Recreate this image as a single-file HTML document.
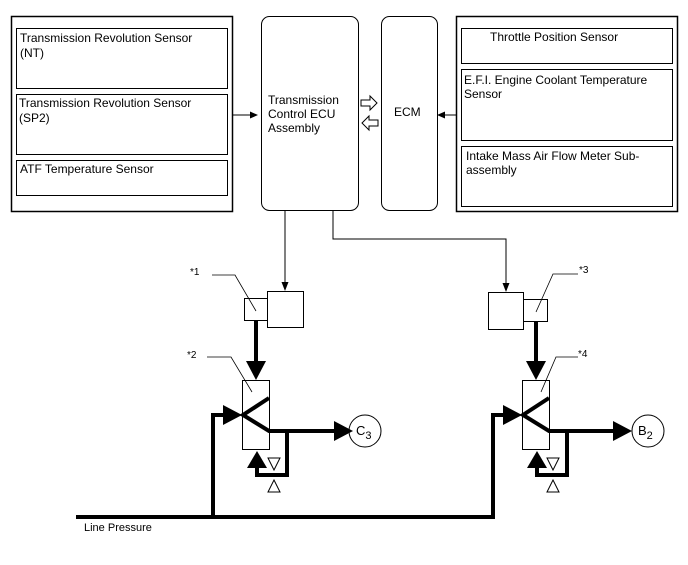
<!DOCTYPE html>
<html><head><style>
html,body{margin:0;padding:0;background:#fff;}
svg text{font-family:"Liberation Sans",Arial,sans-serif;font-size:12px;fill:#000;}
</style></head><body>
<svg width="688" height="560" viewBox="0 0 688 560" xmlns="http://www.w3.org/2000/svg">
<g fill="none" stroke="#000">
<rect x="11.5" y="16.5" width="221" height="195" stroke-width="1.5"/>
<rect x="16.5" y="28.5" width="211" height="60"/>
<rect x="16.5" y="94.5" width="211" height="60"/>
<rect x="16.5" y="160.5" width="211" height="35"/>
<rect x="261.5" y="16.5" width="97" height="194" rx="8"/>
<rect x="381.5" y="16.5" width="56" height="194" rx="8"/>
<rect x="456.5" y="16.5" width="221" height="195" stroke-width="1.5"/>
<rect x="461.5" y="28.5" width="211" height="35"/>
<rect x="461.5" y="69.5" width="211" height="71"/>
<rect x="461.5" y="146.5" width="211" height="60"/>
<line x1="232" y1="115" x2="252" y2="115"/>
<line x1="456" y1="115" x2="443" y2="115"/>
<path d="M361 100h9v-4l7 7-7 7v-4h-9z" stroke-width="1"/>
<path d="M378 120h-9v-4l-7 7 7 7v-4h9z" stroke-width="1"/>
<line x1="285" y1="211" x2="285" y2="282"/>
<polyline points="333,211 333,239 506,239 506,283"/>
<rect x="267.5" y="291.5" width="36" height="36"/>
<rect x="244.5" y="298.5" width="23" height="22"/>
<rect x="488.5" y="292.5" width="35" height="37"/>
<rect x="523.5" y="299.5" width="24" height="22"/>
<rect x="242.5" y="380.5" width="27" height="69"/>
<rect x="522.5" y="380.5" width="27" height="69"/>
<polyline points="212,275 235,275 256,311" stroke-width="0.8"/>
<polyline points="207,357 231,357 252,392" stroke-width="0.8"/>
<polyline points="578,274 553,274 536,312" stroke-width="0.8"/>
<polyline points="578,357 556,357 541,392" stroke-width="0.8"/>
<g stroke-width="4">
<line x1="256" y1="320" x2="256" y2="362"/>
<line x1="536" y1="321" x2="536" y2="362"/>
<polyline points="269,398 243,415 269,431 335,431"/>
<polyline points="549,398 523,415 549,431 615,431"/>
<polyline points="287,431 287,475 257,475 257,466"/>
<polyline points="567,431 567,475 537,475 537,466"/>
<polyline points="76,517 213,517 213,415 224,415"/>
<polyline points="213,517 493,517 493,415 504,415"/>
</g>
<circle cx="365" cy="431" r="16"/>
<circle cx="648" cy="431" r="16"/>
<path d="M268 458h12l-6 12z M274 480l6 12h-12z"/>
<path d="M547 458h12l-6 12z M553 480l6 12h-12z"/>
</g>
<g fill="#000">
<path d="M258 115l-8-3.5v7z"/>
<path d="M437 115l8-3.5v7z"/>
<path d="M285 291l-3.5-9h7z"/>
<path d="M506 292l-3.5-9h7z"/>
<path d="M256 380l-10-19h20z"/>
<path d="M536 380l-10-19h20z"/>
<path d="M242 415l-19-10v20z"/>
<path d="M522 415l-19-10v20z"/>
<path d="M353 431l-19-10v20z"/>
<path d="M632 431l-19-10v20z"/>
<path d="M257 451l-10 17h20z"/>
<path d="M537 451l-10 17h20z"/>
</g>
<text x="20" y="42">Transmission Revolution Sensor</text>
<text x="20" y="57">(NT)</text>
<text x="19" y="107">Transmission Revolution Sensor</text>
<text x="19" y="122">(SP2)</text>
<text x="20" y="173">ATF Temperature Sensor</text>
<text x="268" y="104">Transmission</text>
<text x="268" y="118">Control ECU</text>
<text x="268" y="132">Assembly</text>
<text x="394" y="116">ECM</text>
<text x="490" y="41">Throttle Position Sensor</text>
<text x="464" y="84">E.F.I. Engine Coolant Temperature</text>
<text x="464" y="98">Sensor</text>
<text x="466" y="160">Intake Mass Air Flow Meter Sub-</text>
<text x="466" y="174">assembly</text>
<text x="190" y="275" style="font-size:10px">*1</text>
<text x="187" y="358" style="font-size:10px">*2</text>
<text x="579" y="273" style="font-size:10px">*3</text>
<text x="578" y="357" style="font-size:10px">*4</text>
<text x="356" y="435" style="font-size:13px">C<tspan dy="4" style="font-size:11px">3</tspan></text>
<text x="638" y="435" style="font-size:13px">B<tspan dy="4" style="font-size:11px">2</tspan></text>
<text x="84" y="531" style="font-size:11px">Line Pressure</text>
</svg>
</body></html>
